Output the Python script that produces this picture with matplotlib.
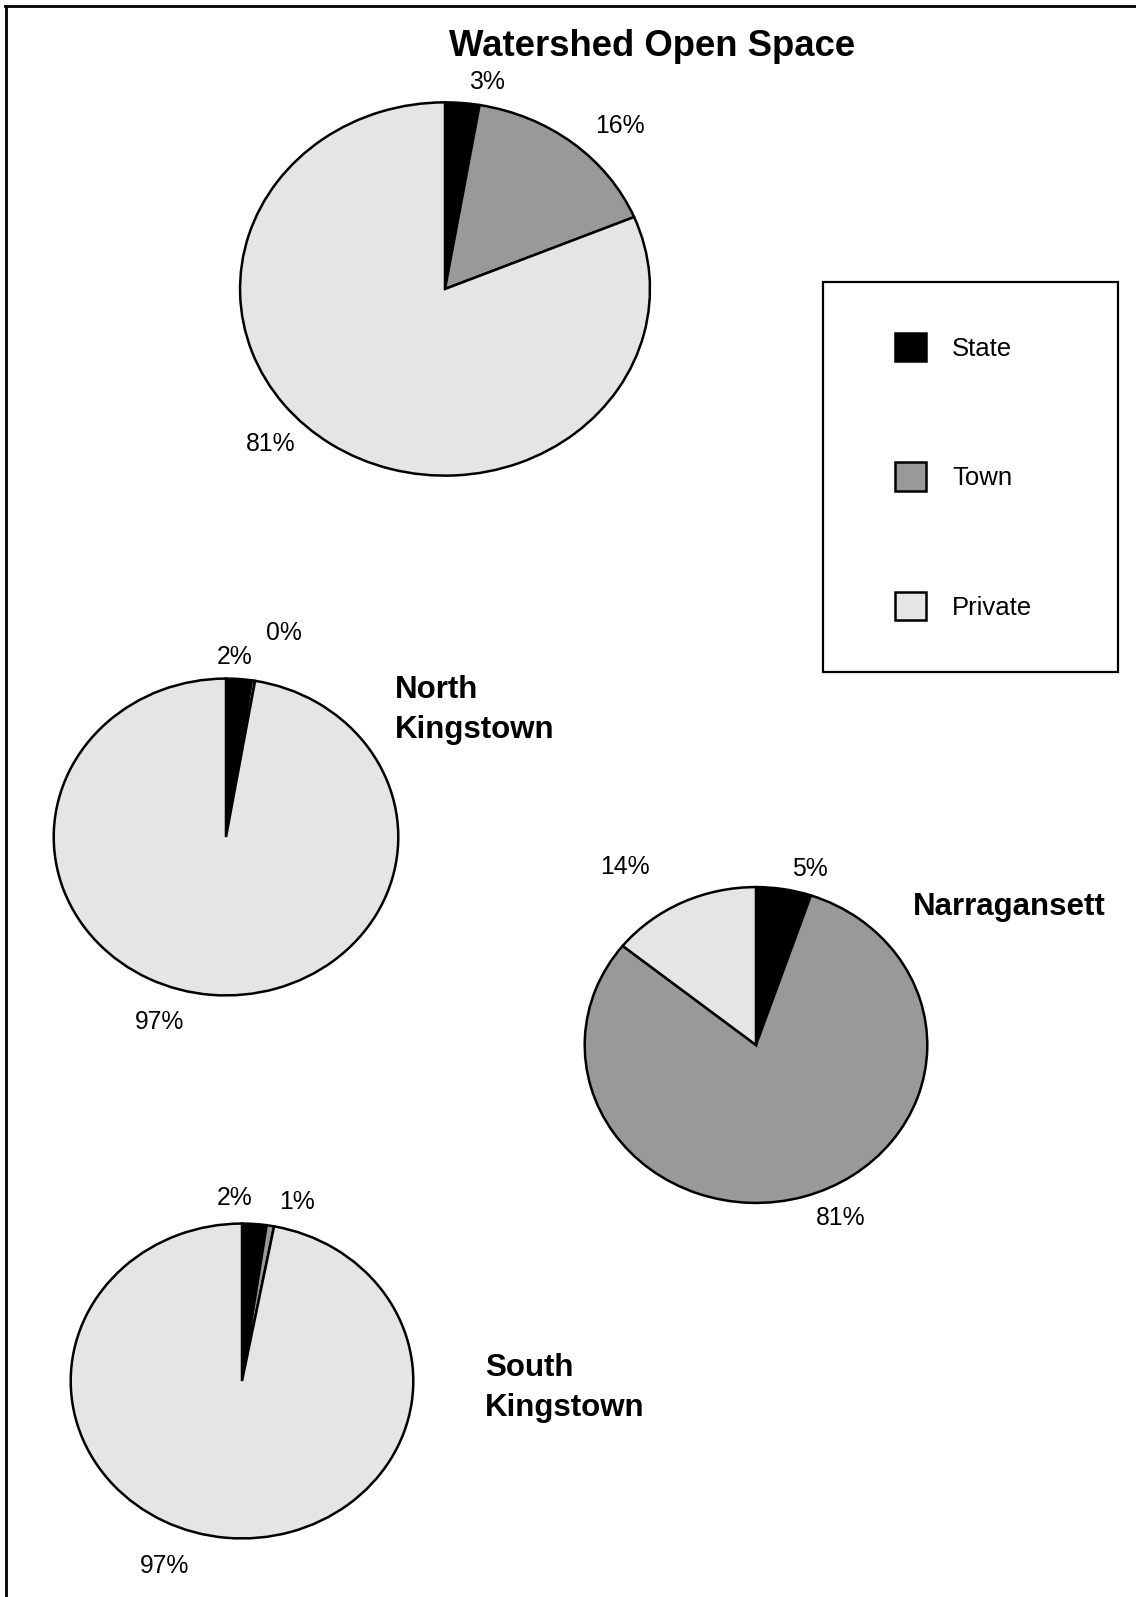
import numpy as np
import matplotlib
matplotlib.use('Agg')
import matplotlib.pyplot as plt
from matplotlib.patches import Rectangle
from matplotlib.lines import Line2D

plt.rcParams['font.family'] = ['Liberation Sans', 'DejaVu Sans']

# ---------------------------------------------------------------------------- #
# Data (percent of open space by owner)

categories = ['State', 'Town', 'Private']
watershed = [2.7, 16.0, 81.3]
north_kingstown = [2.4, 0.3, 97.3]
narragansett = [5.2, 80.6, 14.2]
south_kingstown = [2.3, 0.7, 97.0]

pie_titles = ['', 'North\nKingstown', 'Narragansett', 'South\nKingstown']

# ---------------------------------------------------------------------------- #
# Layout (pixels on a 1136 x 1597 canvas)

W, H = 1136, 1597
colors = ['#000000', '#999999', '#e5e5e5']

# centre x, centre y, radius x, radius y
pie_boxes = [(445, 289, 207, 188.5),
             (226, 837, 174, 160),
             (756, 1045, 173, 159.5),
             (242, 1381, 173, 159)]

# where the percent labels go, one per slice
label_pos = [[(487, 82), (620, 126), (271, 444)],
             [(235, 657), (284, 633), (160, 1022)],
             [(810, 869), (841, 1218), (625, 867)],
             [(235, 1198), (297, 1202), (165, 1566)]]

title_pos = [None, (395, 710), (913, 907), (485, 1388)]


def fx(x):
    return x / W


def fy(y):
    return 1 - y / H


fig = plt.figure(figsize=(W / 100, H / 100), dpi=100)

series = [watershed, north_kingstown, narragansett, south_kingstown]
wedges_first = None

for i, values in enumerate(series):
    cx, cy, rx, ry = pie_boxes[i]
    ax = fig.add_axes([fx(cx - rx), fy(cy + ry), 2 * rx / W, 2 * ry / H])
    wedges, _ = ax.pie(values, colors=colors, startangle=90, counterclock=False,
                       wedgeprops=dict(edgecolor='black', linewidth=1.8))
    ax.set_aspect('auto')
    ax.set_xlim(-1.01, 1.01)
    ax.set_ylim(-1.01, 1.01)
    ax.axis('off')
    if wedges_first is None:
        wedges_first = wedges

    # percent labels
    for v, (lx, ly) in zip(values, label_pos[i]):
        fig.text(fx(lx), fy(ly), '{:.0f}%'.format(v), fontsize=17.8,
                 ha='center', va='center')

    # pie title
    if title_pos[i] is not None:
        tx, ty = title_pos[i]
        fig.text(fx(tx), fy(ty), pie_titles[i], fontsize=22.5, fontweight='bold',
                 ha='left', va='center', linespacing=1.45)

# Main title
fig.text(fx(652), fy(46), 'Watershed Open Space', fontsize=26.3, fontweight='bold',
         ha='center', va='center')

# Legend
fig.legend(wedges_first, categories, loc='upper left',
           bbox_to_anchor=(fx(895), fy(333)), frameon=False,
           fontsize=18.5, handlelength=1.19, handleheight=1.3,
           handletextpad=1.03, labelspacing=3.95, borderpad=0, borderaxespad=0)

# Legend box
fig.patches.append(Rectangle((fx(823), fy(672)), fx(1118) - fx(823), fy(282) - fy(672),
                             transform=fig.transFigure, fill=False,
                             edgecolor='black', linewidth=1.6))

# Outer border (only top and left edges fall inside the picture)
fig.lines.append(Line2D([fx(5), 1], [fy(6), fy(6)], transform=fig.transFigure,
                        color='black', linewidth=2))
fig.lines.append(Line2D([fx(5.5), fx(5.5)], [fy(6), 0], transform=fig.transFigure,
                        color='black', linewidth=2))

plt.savefig('out.png', dpi=100)
